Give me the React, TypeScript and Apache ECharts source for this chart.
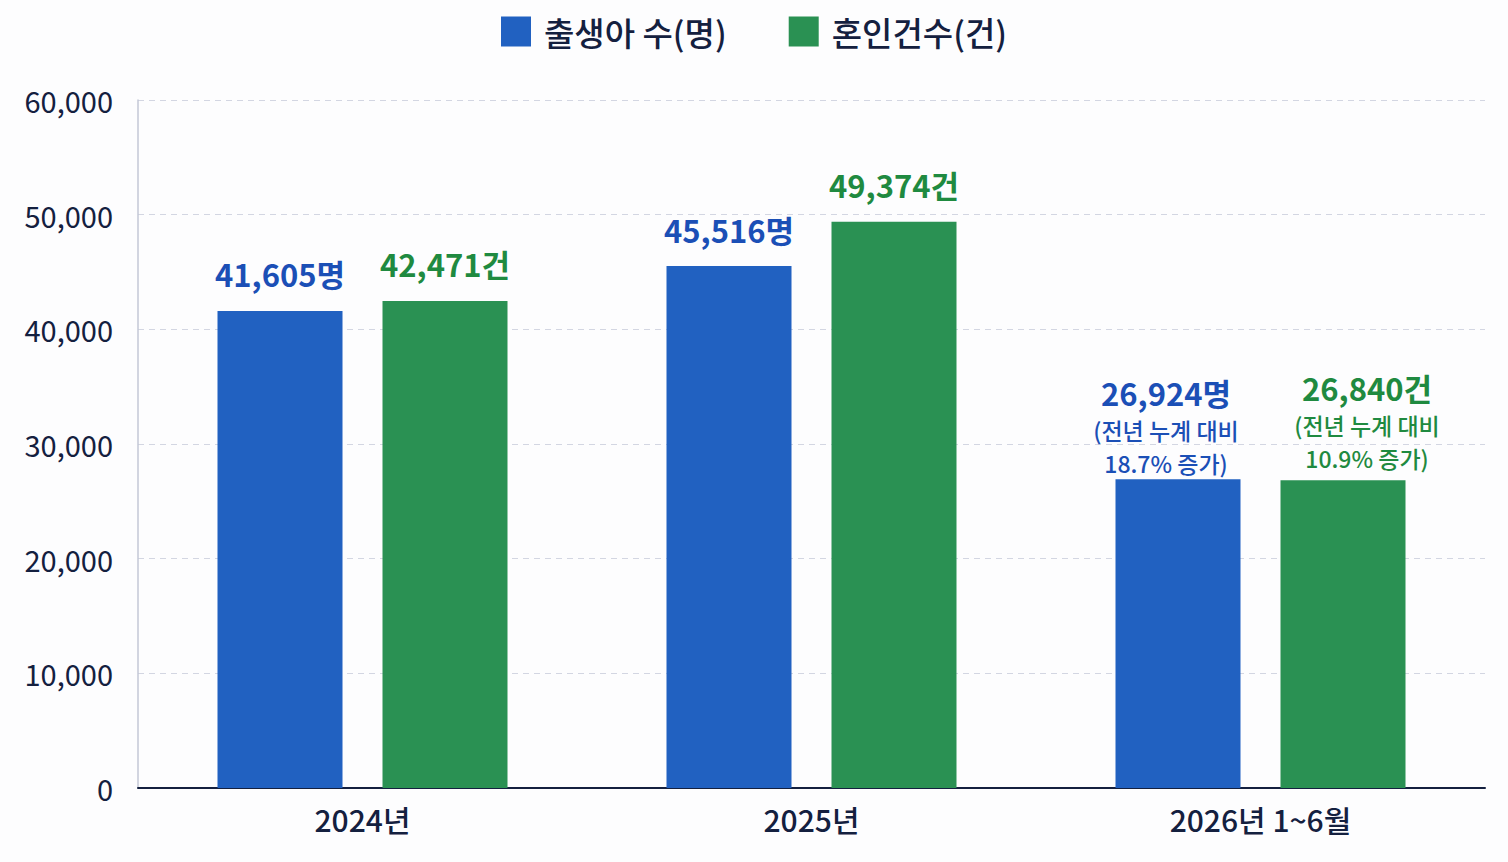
import React, { useEffect, useRef } from 'react';
import * as echarts from 'echarts';

const categories = ['2024년', '2025년', '2026년 1~6월'];
const births = [41605, 45516, 26924];
const marriages = [42471, 49374, 26840];
const birthNotes = ['', '', '(전년 누계 대비|18.7% 증가)'];
const marriageNotes = ['', '', '(전년 누계 대비|10.9% 증가)'];
const yTicks = { min: 0, max: 60000, interval: 10000 };

const FONT = '"Noto Sans CJK KR", "Noto Sans", sans-serif';
const INK = '#14203f';
const BLUE = '#2161c1';
const GREEN = '#2a9153';
const BLUE_TEXT = '#1b4fb6';
const GREEN_TEXT = '#1f8a40';

const labelFor = (unit: string, notes: string[], color: string) => ({
  show: true,
  position: 'top',
  distance: 16,
  fontFamily: FONT,
  color,
  formatter: (p: any) => {
    const head = `{v|${p.value.toLocaleString('en-US')}${unit}}`;
    const note = notes[p.dataIndex];
    if (!note) return head;
    return head + '\n' + note.split('|').map((l) => `{n|${l}}`).join('\n');
  },
  rich: {
    v: { fontSize: 31, fontWeight: 'bold', color, fontFamily: FONT, lineHeight: 42 },
    n: { fontSize: 23, fontWeight: 500, color, fontFamily: FONT, lineHeight: 33 }
  }
});

// the notes in the last group sit a little apart from each other
const withNoteShift = (values: number[], notes: string[], dx: number, dy: number) =>
  values.map((v, i) =>
    notes[i] ? { value: v, label: { offset: [dx, dy], distance: 0 } } : v
  );

const App: React.FC = () => {
  const chartRef = useRef<HTMLDivElement>(null);

  useEffect(() => {
    document.body.style.margin = '0';
    if (!chartRef.current) return;
    const chart = echarts.init(chartRef.current, undefined, { renderer: 'svg' });

    chart.setOption({
      animation: false,
      backgroundColor: '#fdfdfe',
      textStyle: { fontFamily: FONT },
      legend: {
        top: 10,
        left: 'center',
        itemWidth: 30,
        itemHeight: 30,
        itemGap: 62,
        icon: 'rect',
        textStyle: { fontSize: 33, fontWeight: 500, color: INK, fontFamily: FONT, padding: [0, 0, 0, 8] },
        data: ['출생아 수(명)', '혼인건수(건)']
      },
      grid: { left: 138, right: 23, top: 100, bottom: 74 },
      xAxis: {
        type: 'category',
        data: categories,
        axisLine: { lineStyle: { color: INK, width: 2 } },
        axisTick: { show: false },
        axisLabel: { color: INK, fontSize: 30, fontWeight: 500, margin: 16, fontFamily: FONT }
      },
      yAxis: {
        type: 'value',
        min: yTicks.min,
        max: yTicks.max,
        interval: yTicks.interval,
        axisLine: { show: true, lineStyle: { color: '#c3c7d6', width: 1.5 } },
        axisTick: { show: false },
        axisLabel: {
          color: INK,
          fontSize: 29,
          margin: 25,
          fontFamily: FONT,
          formatter: (v: number) => v.toLocaleString('en-US')
        },
        splitLine: { lineStyle: { color: '#d3d6e2', type: [6, 5], width: 1.2 } }
      },
      series: [
        {
          name: '출생아 수(명)',
          type: 'bar',
          data: withNoteShift(births, birthNotes, -12, 0),
          barWidth: 125,
          barGap: '32%',
          itemStyle: { color: BLUE },
          label: labelFor('명', birthNotes, BLUE_TEXT)
        },
        {
          name: '혼인건수(건)',
          type: 'bar',
          data: withNoteShift(marriages, marriageNotes, 24, -6),
          barWidth: 125,
          itemStyle: { color: GREEN },
          label: labelFor('건', marriageNotes, GREEN_TEXT)
        }
      ]
    });

    return () => {
      chart.dispose();
    };
  }, []);

  return <div ref={chartRef} style={{ width: 1508, height: 862 }} />;
};

export default App;
